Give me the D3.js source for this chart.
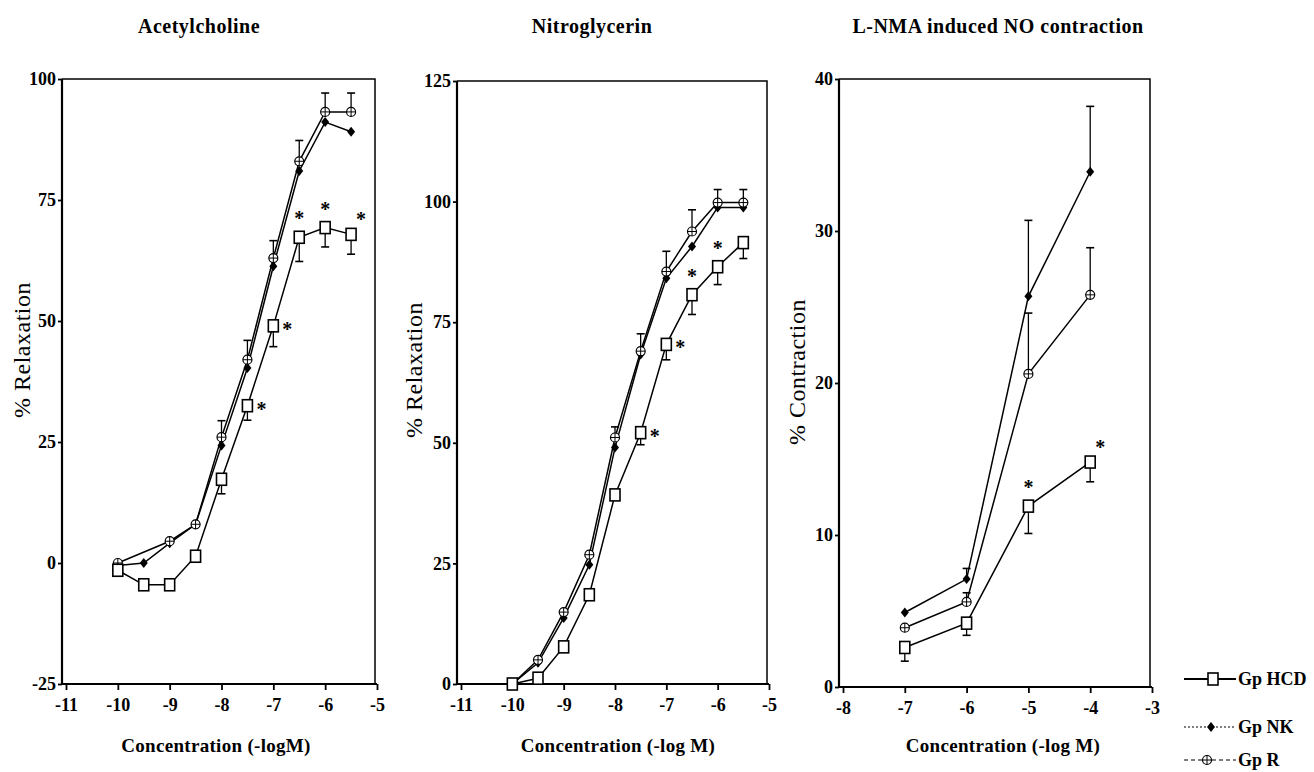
<!DOCTYPE html>
<html>
<head>
<meta charset="utf-8">
<script src="https://cdn.jsdelivr.net/npm/d3@7"></script>
<style>
  body { margin: 0; background: #fff; }
  svg { display: block; font-family: "Liberation Serif", "DejaVu Serif", serif; }
</style>
</head>
<body>
<svg id="chart" width="1314" height="772"></svg>
<script>
// ---- data ----
var doseX = [-10, -9.5, -9, -8.5, -8, -7.5, -7, -6.5, -6, -5.5];

// Acetylcholine
var achHCD = [-1.5, -4.5, -4.5, 1.4, 17.3, 32.5, 49, 67.3, 69.3, 67.9];
var achHCDErr = [0, 0, 0, 0, 3, 3, 4.3, 5, 4, 4.1];
var achNK = [-0.5, 0, 4.1, 8, 24.3, 40.3, 61.3, 81, 91.1, 89.1];
var achR = [0, null, 4.5, 8, 26, 42, 63, 83, 93.2, 93.2];
var achRErr = [0, 0, 0, 0, 3.4, 4, 3.6, 4.3, 3.9, 3.9];
var achStars = [-7.5, -7, -6.5, -6, -5.5];
var achStarPos = ["r", "r", "a", "a", "ar"];

// Nitroglycerin
var ntgHCD = [0, 1.2, 7.7, 18.5, 39.2, 52.1, 70.4, 80.7, 86.5, 91.5];
var ntgHCDErr = [0, 0, 0, 0, 0, 2.5, 3.2, 4.1, 3.7, 3.3];
var ntgNK = [0, 4.4, 13.7, 24.7, 49, 68.3, 84.1, 90.7, 98.8, 98.8];
var ntgR = [0, 5, 14.9, 26.8, 51.1, 69, 85.5, 93.8, 99.8, 99.8];
var ntgRErr = [0, 0, 0, 0, 2.2, 3.6, 4.2, 4.5, 2.7, 2.7];
var ntgStars = [-7.5, -7, -6.5, -6];
var ntgStarPos = ["r", "r", "a", "a"];

// L-NMA induced NO contraction
var lnmaX = [-7, -6, -5, -4];
var lnmaHCD = [2.6, 4.2, 11.9, 14.8];
var lnmaHCDErr = [0.9, 0.8, 1.8, 1.3];
var lnmaNK = [4.9, 7.1, 25.7, 33.9];
var lnmaNKErr = [0, 0.7, 5, 4.3];
var lnmaR = [3.9, 5.6, 20.6, 25.8];
var lnmaRErr = [0, 0.6, 4, 3.1];
var lnmaStars = [-5, -4];
var lnmaStarPos = ["a", "ar"];

var groupNames = ["Gp HCD", "Gp NK", "Gp R"];

var svg = d3.select("#chart");

var panels = [
  {
    title: "Acetylcholine", titleX: 199,
    ylabel: "% Relaxation", ylabelX: 22, ylabelY: 350,
    xlabel: "Concentration (-logM)", xlabelX: 216,
    box: {left: 62, top: 79, right: 375, bottom: 684},
    xDomain: [-11, -5], yDomain: [-25, 100], yTicks: [-25, 0, 25, 50, 75, 100], xTicks: d3.range(-11, -4),
    x: doseX,
    hcd: achHCD, hcdErr: achHCDErr, nk: achNK, nkErr: null, r: achR, rErr: achRErr,
    stars: achStars, starPos: achStarPos
  },
  {
    title: "Nitroglycerin", titleX: 592,
    ylabel: "% Relaxation", ylabelX: 414, ylabelY: 370,
    xlabel: "Concentration (-log M)", xlabelX: 618,
    box: {left: 457, top: 81, right: 767, bottom: 684},
    xDomain: [-11, -5], yDomain: [0, 125], yTicks: [0, 25, 50, 75, 100, 125], xTicks: d3.range(-11, -4),
    x: doseX,
    hcd: ntgHCD, hcdErr: ntgHCDErr, nk: ntgNK, nkErr: null, r: ntgR, rErr: ntgRErr,
    stars: ntgStars, starPos: ntgStarPos
  },
  {
    title: "L-NMA induced NO contraction", titleX: 998,
    ylabel: "% Contraction", ylabelX: 797, ylabelY: 372,
    xlabel: "Concentration (-log M)", xlabelX: 1003,
    box: {left: 839, top: 79, right: 1150, bottom: 687},
    xDomain: [-8, -3], yDomain: [0, 40], yTicks: [0, 10, 20, 30, 40], xTicks: d3.range(-8, -2),
    x: lnmaX,
    hcd: lnmaHCD, hcdErr: lnmaHCDErr, nk: lnmaNK, nkErr: lnmaNKErr, r: lnmaR, rErr: lnmaRErr,
    stars: lnmaStars, starPos: lnmaStarPos
  }
];

function drawSquare(g, x, y) {
  g.append("rect")
    .attr("x", x - 5).attr("y", y - 6)
    .attr("width", 10).attr("height", 12)
    .attr("fill", "#fff").attr("stroke", "#000").attr("stroke-width", 1.6);
}
function drawDiamond(g, x, y) {
  g.append("path")
    .attr("d", "M" + x + "," + (y - 5) + "L" + (x + 4) + "," + y + "L" + x + "," + (y + 5) + "L" + (x - 4) + "," + y + "Z")
    .attr("fill", "#000");
}
function drawCirclePlus(g, x, y) {
  g.append("circle").attr("cx", x).attr("cy", y).attr("r", 4.5)
    .attr("fill", "#fff").attr("stroke", "#000").attr("stroke-width", 1.2);
  g.append("path")
    .attr("d", "M" + (x - 4.5) + "," + y + "H" + (x + 4.5) + "M" + x + "," + (y - 4.5) + "V" + (y + 4.5))
    .attr("stroke", "#000").attr("stroke-width", 1);
}

panels.forEach(function(p) {
  var b = p.box;
  var xScale = d3.scaleLinear().domain(p.xDomain).range([b.left + 4, b.right + 2]);
  var yScale = d3.scaleLinear().domain(p.yDomain).range([b.bottom, b.top]);
  var g = svg.append("g");

  // frame (top / right)
  g.append("path")
    .attr("d", "M" + b.left + "," + b.top + "H" + b.right + "V" + b.bottom)
    .attr("fill", "none").attr("stroke", "#000").attr("stroke-width", 1.5);

  // y axis
  var yAxis = d3.axisLeft(yScale).tickValues(p.yTicks).tickSize(4).tickPadding(2)
    .tickFormat(function(d) { return String(d); });
  var yG = g.append("g").attr("transform", "translate(" + b.left + ",0)").call(yAxis);

  // x axis
  var xAxis = d3.axisBottom(xScale).tickValues(p.xTicks).tickSize(6).tickPadding(8)
    .tickFormat(function(d) { return String(d); });
  var xG = g.append("g").attr("transform", "translate(0," + b.bottom + ")").call(xAxis);

  [yG, xG].forEach(function(ax) {
    ax.select(".domain").attr("stroke-width", 2.2);
    ax.selectAll(".tick line").attr("stroke-width", 1.8);
    ax.selectAll("text")
      .attr("fill", "#000")
      .style("font-family", "Liberation Serif")
      .style("font-weight", "bold")
      .style("font-size", "18px");
  });
  xG.select(".domain").attr("d", "M" + b.left + ",0H" + (b.right + 2));
  yG.select(".domain").attr("d", "M0," + b.top + "V" + b.bottom);

  // title and labels
  svg.append("text").text(p.title)
    .attr("x", p.titleX).attr("y", 33)
    .attr("text-anchor", "middle")
    .style("font-size", "20px").style("font-weight", "bold").style("letter-spacing", "0.5px");

  svg.append("text").text(p.ylabel)
    .attr("transform", "translate(" + p.ylabelX + "," + p.ylabelY + ") rotate(-90)")
    .attr("text-anchor", "middle").attr("dy", "0.35em")
    .style("font-size", "24px").style("letter-spacing", "0.5px");

  svg.append("text").text(p.xlabel)
    .attr("x", p.xlabelX).attr("y", 752)
    .attr("text-anchor", "middle")
    .style("font-size", "19px").style("font-weight", "bold").style("letter-spacing", "0.3px");

  var line = d3.line()
    .x(function(d) { return xScale(d[0]); })
    .y(function(d) { return yScale(d[1]); });

  function series(vals) {
    return p.x.map(function(x, i) { return [x, vals[i]]; })
      .filter(function(d) { return d[1] !== null; });
  }

  // error bars
  function errBars(vals, errs, dir) {
    if (!errs) return;
    p.x.forEach(function(x, i) {
      if (vals[i] === null || !errs[i]) return;
      var cx = xScale(x);
      var y0 = yScale(vals[i]);
      var y1 = yScale(vals[i] + dir * errs[i]);
      g.append("line").attr("x1", cx).attr("x2", cx).attr("y1", y0).attr("y2", y1)
        .attr("stroke", "#000").attr("stroke-width", 1.3);
      g.append("line").attr("x1", cx - 4).attr("x2", cx + 4).attr("y1", y1).attr("y2", y1)
        .attr("stroke", "#000").attr("stroke-width", 1.6);
    });
  }
  errBars(p.r, p.rErr, 1);
  errBars(p.nk, p.nkErr, 1);
  errBars(p.hcd, p.hcdErr, -1);

  // lines
  [p.r, p.nk, p.hcd].forEach(function(vals) {
    g.append("path").datum(series(vals))
      .attr("d", line)
      .attr("fill", "none").attr("stroke", "#000").attr("stroke-width", 1.5);
  });

  // markers
  series(p.nk).forEach(function(d) { drawDiamond(g, xScale(d[0]), yScale(d[1])); });
  series(p.r).forEach(function(d) { drawCirclePlus(g, xScale(d[0]), yScale(d[1])); });
  series(p.hcd).forEach(function(d) { drawSquare(g, xScale(d[0]), yScale(d[1])); });

  // significance stars
  p.stars.forEach(function(sx, i) {
    var idx = p.x.indexOf(sx);
    var cx = xScale(sx), cy = yScale(p.hcd[idx]);
    var pos = p.starPos[i];
    var tx = cx, ty = cy;
    if (pos === "r") { tx = cx + 14; ty = cy + 10; }
    if (pos === "a") { tx = cx; ty = cy - 12; }
    if (pos === "ar") { tx = cx + 10; ty = cy - 8; }
    g.append("text").text("*")
      .attr("x", tx).attr("y", ty)
      .attr("text-anchor", "middle")
      .style("font-size", "20px").style("font-weight", "bold");
  });
});

// legend
var legendY = [679, 727, 760];
var legendDash = [null, "2,2", "4,3"];
groupNames.forEach(function(name, i) {
  var y = legendY[i];
  var lg = svg.append("g");
  lg.append("line").attr("x1", 1184).attr("x2", 1236).attr("y1", y).attr("y2", y)
    .attr("stroke", "#000").attr("stroke-width", i === 0 ? 2 : 1.2)
    .attr("stroke-dasharray", legendDash[i]);
  if (i === 0) drawSquare(lg, 1213, y);
  if (i === 1) drawDiamond(lg, 1211, y);
  if (i === 2) drawCirclePlus(lg, 1207, y);
  lg.append("text").text(name)
    .attr("x", 1238).attr("y", y).attr("dy", "0.35em")
    .style("font-size", "18px").style("font-weight", "bold");
});
</script>
</body>
</html>
